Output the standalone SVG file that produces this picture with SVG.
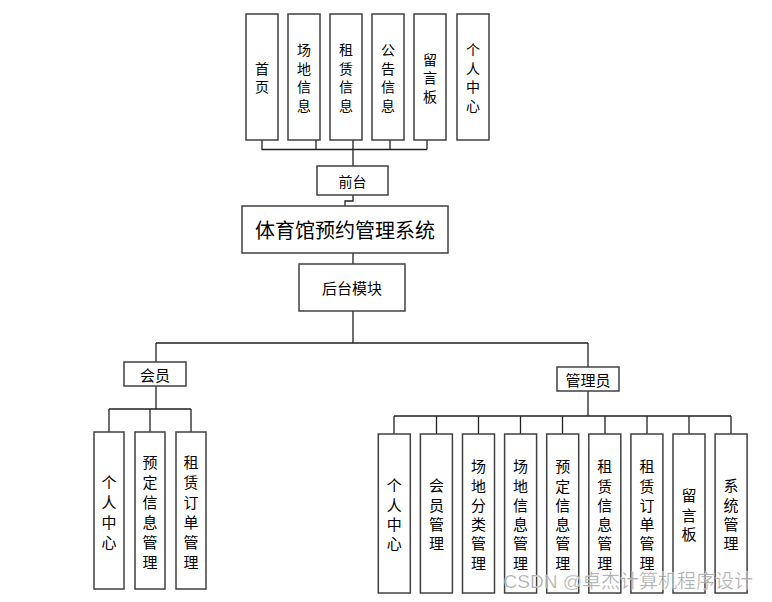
<svg xmlns="http://www.w3.org/2000/svg" width="772" height="602" viewBox="0 0 772 602">
<style>
.box{fill:#fff;stroke:#404040;stroke-width:1.5}
.t{font-family:"Noto Sans CJK SC","Liberation Sans",sans-serif;fill:#000;text-anchor:middle;dominant-baseline:central}
.s14{font-size:14px}
.s15{font-size:15px}
.s20{font-size:20px}
.ln{fill:none;stroke:#222;stroke-width:1.3}
.wm{font-family:"Liberation Sans","Noto Sans CJK SC",sans-serif;font-size:19px;fill:#999;fill-opacity:0.9;stroke:#fff;stroke-width:0.6;stroke-opacity:0.6}
</style>
<rect width="772" height="602" fill="#fff"/>
<g id="connectors">
<path class="ln" d="M262 140V149.5H427M316 140V149.5M353 140V166M390 140V149.5M427 140V149.5"/>
<path class="ln" d="M353 195V201H345V206"/>
<path class="ln" d="M353 253V264"/>
<path class="ln" d="M353 311V343M156 343H588M156 343V362M588 343V367"/>
<path class="ln" d="M156 386V409M109 409H191M109 409V432M150 409V432M191 409V432"/>
<path class="ln" d="M588 391V416M394 416H731M394 416V434M436.5 416V434M478.5 416V434M520.5 416V434M562.5 416V434M605 416V434M647 416V434M689 416V434M731 416V434"/>
</g>
<g id="front-home"><rect class="box" x="246" y="14" width="32" height="126"/><text class="t s14"><tspan x="262" y="67.75">首</tspan><tspan x="262" y="86.25">页</tspan></text></g>
<g id="front-venue"><rect class="box" x="288" y="14" width="32" height="126"/><text class="t s14"><tspan x="304" y="49.25">场</tspan><tspan x="304" y="67.75">地</tspan><tspan x="304" y="86.25">信</tspan><tspan x="304" y="104.75">息</tspan></text></g>
<g id="front-rent"><rect class="box" x="330" y="14" width="32" height="126"/><text class="t s14"><tspan x="346" y="49.25">租</tspan><tspan x="346" y="67.75">赁</tspan><tspan x="346" y="86.25">信</tspan><tspan x="346" y="104.75">息</tspan></text></g>
<g id="front-notice"><rect class="box" x="372" y="14" width="32" height="126"/><text class="t s14"><tspan x="388" y="49.25">公</tspan><tspan x="388" y="67.75">告</tspan><tspan x="388" y="86.25">信</tspan><tspan x="388" y="104.75">息</tspan></text></g>
<g id="front-message"><rect class="box" x="414" y="14" width="32" height="126"/><text class="t s14"><tspan x="430" y="58.5">留</tspan><tspan x="430" y="77">言</tspan><tspan x="430" y="95.5">板</tspan></text></g>
<g id="front-personal"><rect class="box" x="457" y="14" width="32" height="126"/><text class="t s14"><tspan x="473" y="49.25">个</tspan><tspan x="473" y="67.75">人</tspan><tspan x="473" y="86.25">中</tspan><tspan x="473" y="104.75">心</tspan></text></g>
<g id="frontend"><rect class="box" x="317" y="166" width="71" height="29"/><text class="t s14" x="352.5" y="180.5">前台</text></g>
<g id="system"><rect class="box" x="242" y="206" width="206" height="47"/><text class="t s20" x="345" y="229.5">体育馆预约管理系统</text></g>
<g id="backend"><rect class="box" x="299" y="264" width="106" height="47"/><text class="t s15" x="352" y="287.5">后台模块</text></g>
<g id="member"><rect class="box" x="124" y="362" width="62" height="24"/><text class="t s15" x="155" y="374">会员</text></g>
<g id="admin"><rect class="box" x="557" y="367" width="62" height="24"/><text class="t s15" x="588" y="379">管理员</text></g>
<g id="m-personal"><rect class="box" x="94" y="432" width="30" height="157"/><text class="t s15"><tspan x="109" y="480.5">个</tspan><tspan x="109" y="500.5">人</tspan><tspan x="109" y="520.5">中</tspan><tspan x="109" y="540.5">心</tspan></text></g>
<g id="m-booking"><rect class="box" x="135" y="432" width="30" height="157"/><text class="t s15"><tspan x="150" y="460.5">预</tspan><tspan x="150" y="480.5">定</tspan><tspan x="150" y="500.5">信</tspan><tspan x="150" y="520.5">息</tspan><tspan x="150" y="540.5">管</tspan><tspan x="150" y="560.5">理</tspan></text></g>
<g id="m-order"><rect class="box" x="176" y="432" width="30" height="157"/><text class="t s15"><tspan x="191" y="460.5">租</tspan><tspan x="191" y="480.5">赁</tspan><tspan x="191" y="500.5">订</tspan><tspan x="191" y="520.5">单</tspan><tspan x="191" y="540.5">管</tspan><tspan x="191" y="560.5">理</tspan></text></g>
<g id="a-personal"><rect class="box" x="378.3" y="434" width="32" height="159"/><text class="t s15"><tspan x="394.3" y="484.3">个</tspan><tspan x="394.3" y="503.6">人</tspan><tspan x="394.3" y="522.9">中</tspan><tspan x="394.3" y="542.2">心</tspan></text></g>
<g id="a-member"><rect class="box" x="420.4" y="434" width="32" height="159"/><text class="t s15"><tspan x="436.4" y="484.3">会</tspan><tspan x="436.4" y="503.6">员</tspan><tspan x="436.4" y="522.9">管</tspan><tspan x="436.4" y="542.2">理</tspan></text></g>
<g id="a-category"><rect class="box" x="462.5" y="434" width="32" height="159"/><text class="t s15"><tspan x="478.5" y="465.2">场</tspan><tspan x="478.5" y="484.5">地</tspan><tspan x="478.5" y="503.8">分</tspan><tspan x="478.5" y="523.1">类</tspan><tspan x="478.5" y="542.4">管</tspan><tspan x="478.5" y="561.7">理</tspan></text></g>
<g id="a-venue"><rect class="box" x="504.6" y="434" width="32" height="159"/><text class="t s15"><tspan x="520.6" y="465.2">场</tspan><tspan x="520.6" y="484.5">地</tspan><tspan x="520.6" y="503.8">信</tspan><tspan x="520.6" y="523.1">息</tspan><tspan x="520.6" y="542.4">管</tspan><tspan x="520.6" y="561.7">理</tspan></text></g>
<g id="a-booking"><rect class="box" x="546.7" y="434" width="32" height="159"/><text class="t s15"><tspan x="562.7" y="465.2">预</tspan><tspan x="562.7" y="484.5">定</tspan><tspan x="562.7" y="503.8">信</tspan><tspan x="562.7" y="523.1">息</tspan><tspan x="562.7" y="542.4">管</tspan><tspan x="562.7" y="561.7">理</tspan></text></g>
<g id="a-rentinfo"><rect class="box" x="588.8" y="434" width="32" height="159"/><text class="t s15"><tspan x="604.8" y="465.2">租</tspan><tspan x="604.8" y="484.5">赁</tspan><tspan x="604.8" y="503.8">信</tspan><tspan x="604.8" y="523.1">息</tspan><tspan x="604.8" y="542.4">管</tspan><tspan x="604.8" y="561.7">理</tspan></text></g>
<g id="a-order"><rect class="box" x="630.9" y="434" width="32" height="159"/><text class="t s15"><tspan x="646.9" y="465.2">租</tspan><tspan x="646.9" y="484.5">赁</tspan><tspan x="646.9" y="503.8">订</tspan><tspan x="646.9" y="523.1">单</tspan><tspan x="646.9" y="542.4">管</tspan><tspan x="646.9" y="561.7">理</tspan></text></g>
<g id="a-message"><rect class="box" x="673" y="434" width="32" height="159"/><text class="t s15"><tspan x="689" y="494.2">留</tspan><tspan x="689" y="513.5">言</tspan><tspan x="689" y="532.8">板</tspan></text></g>
<g id="a-system"><rect class="box" x="715.1" y="434" width="32" height="159"/><text class="t s15"><tspan x="731.1" y="484.3">系</tspan><tspan x="731.1" y="503.6">统</tspan><tspan x="731.1" y="522.9">管</tspan><tspan x="731.1" y="542.2">理</tspan></text></g>
<text class="wm" x="753" y="588" text-anchor="end">CSDN @卓杰计算机程序设计</text>
</svg>
